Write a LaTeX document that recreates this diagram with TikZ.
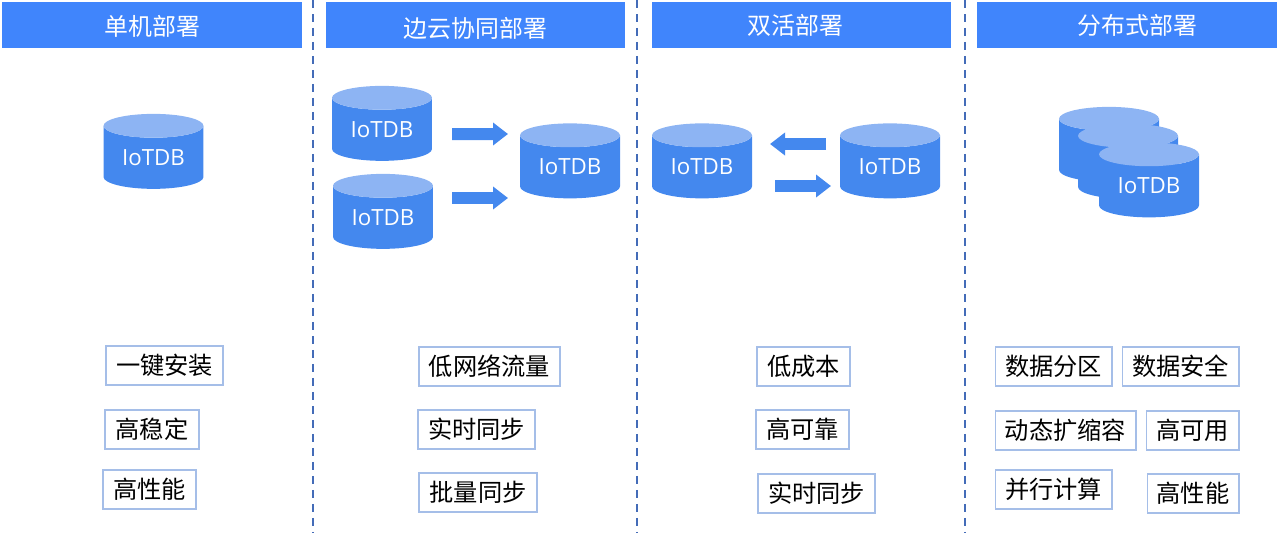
\documentclass[tikz,border=0pt]{standalone}
\usepackage{fontspec}
\usepackage{tikz}
\usetikzlibrary{shapes.geometric, arrows.meta}
\newfontfamily\cjk{Noto Sans CJK SC}
\newfontfamily\dbfont{Open Sans}
\definecolor{Head-1}{RGB}{64,133,252}
\definecolor{Body-1}{RGB}{68,136,238}
\definecolor{Top-1}{RGB}{141,180,243}
\definecolor{Rule-1}{RGB}{68,108,184}
\definecolor{Line-1}{RGB}{165,190,232}
\tikzset{
  headbox/.style={fill=Head-1, minimum height=.92cm, inner sep=0pt},
  headtext/.style={text=white, inner sep=0pt, font=\cjk\fontsize{13.6pt}{15pt}\selectfont},
  tagbox/.style={draw=Line-1, line width=.6pt, fill=white, text=black, minimum height=.78cm, inner sep=0pt, font=\cjk\fontsize{13.8pt}{15pt}\selectfont},
  dbcyl/.style={shape=cylinder, shape border rotate=90, aspect=.38, cylinder uses custom fill, cylinder body fill=Body-1, cylinder end fill=Top-1, draw=none, minimum width=2cm, minimum height=1.5cm, inner sep=0pt, outer sep=0pt, text=white, font=\dbfont\fontsize{12.7pt}{15pt}\selectfont},
  blockarrow/.style={-{Triangle[length=.3cm,width=.44cm]}, line width=.24cm, draw=Body-1},
  splitrule/.style={draw=Rule-1, line width=1.3pt, dash pattern=on .16cm off .12cm},
}
\begin{document}
\begin{tikzpicture}[x=.02cm, y=-.02cm]
      \useasboundingbox (0,0) rectangle (1280,535);

      \node[headbox, minimum width=6cm] (hsingle) at ( 152, 25) {};
      \node[headbox, minimum width=5.98cm] (hedge) at ( 475.5, 25) {};
      \node[headbox, minimum width=5.98cm] (hdual) at ( 801.5, 25) {};
      \node[headbox, minimum width=6cm] (hdist) at (1127, 25) {};
      \node[headtext] (tsingle) at ( 152.5, 26) {单机部署};
      \node[headtext] (tedge) at ( 475.5, 28) {边云协同部署};
      \node[headtext] (tdual) at ( 795.5, 25) {双活部署};
      \node[headtext] (tdist) at (1137.5, 25) {分布式部署};

      \coordinate (ra1) at (313, 0);  \coordinate (ra2) at (313, 532);
      \coordinate (rb1) at (637, 0);  \coordinate (rb2) at (637, 532);
      \coordinate (rc1) at (965, 0);  \coordinate (rc2) at (965, 532);
      \draw[splitrule] (ra1) -- (ra2);
      \draw[splitrule] (rb1) -- (rb2);
      \draw[splitrule] (rc1) -- (rc2);

      \node[dbcyl] (dbsingle) at ( 153.5, 157.5) {IoTDB};

      \node[dbcyl] (dbedgea) at ( 382, 129.5) {IoTDB};
      \node[dbcyl] (dbedgeb) at ( 383, 217.5) {IoTDB};
      \node[dbcyl] (dbedgec) at ( 570, 167) {IoTDB};

      \node[dbcyl] (dbduala) at ( 702, 167) {IoTDB};
      \node[dbcyl] (dbdualb) at ( 890, 167) {IoTDB};

      \node[dbcyl] (dbdista) at (1109, 150.5) {\phantom{IoTDB}};
      \node[dbcyl] (dbdistb) at (1128, 167.5) {\phantom{IoTDB}};
      \node[dbcyl] (dbdistc) at (1149, 186) {IoTDB};

      \draw[blockarrow] ([shift={(20,4.5)}]dbedgea.east) -- ([shift={(-12,-33)}]dbedgec.west);
      \draw[blockarrow] ([shift={(19,-19.5)}]dbedgeb.east) -- ([shift={(-12,31)}]dbedgec.west);
      \draw[blockarrow] ([shift={(-14,-23)}]dbdualb.west) -- ([shift={(18,-23)}]dbduala.east);
      \draw[blockarrow] ([shift={(23,19)}]dbduala.east) -- ([shift={(-9,19)}]dbdualb.west);

      \node[tagbox, minimum width=2.34cm] (ta) at ( 164.5, 365.5) {一键安装};
      \node[tagbox, minimum width=1.88cm] (tb) at ( 152, 429.5) {高稳定};
      \node[tagbox, minimum width=1.86cm] (tc) at ( 149.5, 489.5) {高性能};

      \node[tagbox, minimum width=2.82cm] (td) at ( 489.5, 366.5) {低网络流量};
      \node[tagbox, minimum width=2.34cm] (te) at ( 476.5, 429.5) {实时同步};
      \node[tagbox, minimum width=2.36cm] (tf) at ( 478, 492.5) {批量同步};

      \node[tagbox, minimum width=1.86cm] (tg) at ( 803.5, 366.5) {低成本};
      \node[tagbox, minimum width=1.86cm] (th) at ( 802.5, 429.5) {高可靠};
      \node[tagbox, minimum width=2.34cm] (ti) at ( 816.5, 493.5) {实时同步};

      \node[tagbox, minimum width=2.34cm] (tj) at (1053.5, 366.5) {数据分区};
      \node[tagbox, minimum width=2.34cm] (tk) at (1180.5, 366.5) {数据安全};
      \node[tagbox, minimum width=2.82cm] (tl) at (1065.5, 430.5) {动态扩缩容};
      \node[tagbox, minimum width=1.86cm] (tm) at (1192.5, 430.5) {高可用};
      \node[tagbox, minimum width=2.34cm] (tn) at (1053.5, 489.5) {并行计算};
      \node[tagbox, minimum width=1.84cm] (to) at (1193, 493.5) {高性能};
    \end{tikzpicture}
\end{document}
